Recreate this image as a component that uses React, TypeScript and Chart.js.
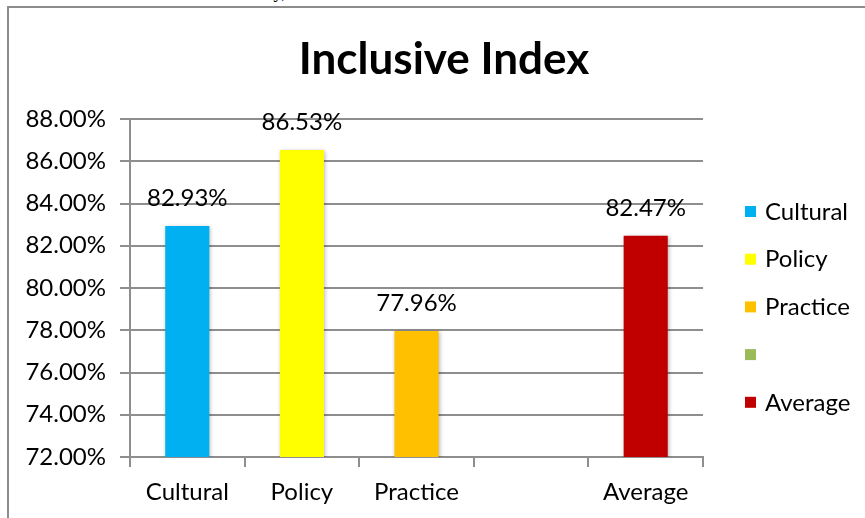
import React, { useEffect, useRef } from "react";
import { Chart, registerables } from "chart.js";

Chart.register(...registerables);

const chartTitle = "Inclusive Index";
const categories = ["Cultural", "Policy", "Practice", "", "Average"];
const values: (number | null)[] = [82.93, 86.53, 77.96, null, 82.47];
const barColors = ["#00B0F0", "#FFFF00", "#FFC000", "#9BBB59", "#C00000"];
const yMin = 72;
const yMax = 88;
const yStep = 2;

const FONT = "Lato, 'Open Sans', sans-serif";

export default function App() {
  const ref = useRef<HTMLCanvasElement | null>(null);

  useEffect(() => {
    document.body.style.margin = "0";
    const canvas = ref.current;
    if (!canvas) return;

    const extras = {
      id: "extras",
      beforeDatasetsDraw(chart: any) {
        const ctx = chart.ctx;
        ctx.save();
        ctx.shadowColor = "rgba(0,0,0,0.28)";
        ctx.shadowBlur = 4;
        ctx.shadowOffsetX = 1;
        ctx.shadowOffsetY = 1;
      },
      afterDatasetsDraw(chart: any) {
        const ctx = chart.ctx;
        ctx.restore();
        const meta = chart.getDatasetMeta(0);
        ctx.save();
        ctx.font = `24px ${FONT}`;
        ctx.fillStyle = "#000";
        ctx.textAlign = "center";
        ctx.textBaseline = "alphabetic";
        meta.data.forEach((bar: any, i: number) => {
          const v = values[i];
          if (v == null) return;
          ctx.fillText(v.toFixed(2) + "%", bar.x, bar.y - 20);
        });
        ctx.restore();
      },
      afterDraw(chart: any) {
        const ctx = chart.ctx;
        ctx.save();
        // title
        ctx.font = `bold 44px ${FONT}`;
        ctx.fillStyle = "#000";
        ctx.textAlign = "center";
        ctx.textBaseline = "alphabetic";
        ctx.fillText(chartTitle, 444, 74);
        // legend
        ctx.font = `24px ${FONT}`;
        ctx.textAlign = "left";
        ctx.textBaseline = "middle";
        categories.forEach((c, i) => {
          const cy = 211 + i * 47.7;
          ctx.fillStyle = barColors[i];
          ctx.fillRect(745, cy - 5, 11, 11);
          ctx.fillStyle = "#000";
          ctx.fillText(c, 765, cy + 1);
        });
        ctx.restore();
      },
    };

    const chart = new Chart(canvas, {
      type: "bar",
      data: {
        labels: categories,
        datasets: [
          {
            data: values as any,
            backgroundColor: barColors,
            borderWidth: 0,
            barPercentage: 0.385,
            categoryPercentage: 1,
          },
        ],
      },
      options: {
        responsive: false,
        animation: false,
        devicePixelRatio: 1,
        layout: { padding: { left: 0, top: 119, right: 162, bottom: 11 } },
        plugins: {
          legend: { display: false },
          title: { display: false },
          tooltip: { enabled: false },
        },
        scales: {
          x: {
            afterFit(scale: any) {
              scale.height = 50;
            },
            grid: {
              offset: true,
              drawOnChartArea: false,
              drawTicks: true,
              tickLength: 10,
              color: "#8e8e8e",
              lineWidth: 2,
            },
            border: { display: true, color: "#8e8e8e", width: 2 },
            ticks: {
              color: "#000",
              font: { family: FONT, size: 24 },
              padding: 11,
              maxRotation: 0,
            },
          },
          y: {
            min: yMin,
            max: yMax,
            afterFit(scale: any) {
              scale.width = 130;
            },
            grid: {
              drawTicks: true,
              tickLength: 10,
              color: "#8e8e8e",
              lineWidth: 2,
            },
            border: { display: true, color: "#8e8e8e", width: 2 },
            ticks: {
              stepSize: yStep,
              color: "#000",
              font: { family: FONT, size: 24 },
              padding: 14,
              callback: (v: any) => Number(v).toFixed(2) + "%",
            },
          },
        },
      },
      plugins: [extras],
    } as any);

    return () => chart.destroy();
  }, []);

  return (
    <div
      style={{
        position: "absolute",
        left: 0,
        top: 0,
        width: 865,
        height: 518,
        overflow: "hidden",
        background: "#fff",
      }}
    >
      <div
        style={{
          position: "absolute",
          left: 100,
          top: -18,
          width: 865,
          whiteSpace: "nowrap",
          fontFamily: "'Liberation Serif', serif",
          fontSize: 18,
          lineHeight: "20px",
          color: "#000",
        }}
      >
        In the results of the study, the Inclusive Index obtained a total score as shown in the chart below.
      </div>
      <div
        style={{
          position: "absolute",
          left: 7,
          top: 6,
          width: 900,
          height: 600,
          border: "2px solid #8c8c8c",
          boxSizing: "border-box",
        }}
      />
      <canvas
        ref={ref}
        width={865}
        height={518}
        style={{ position: "absolute", left: 0, top: 0, width: 865, height: 518 }}
      />
    </div>
  );
}
